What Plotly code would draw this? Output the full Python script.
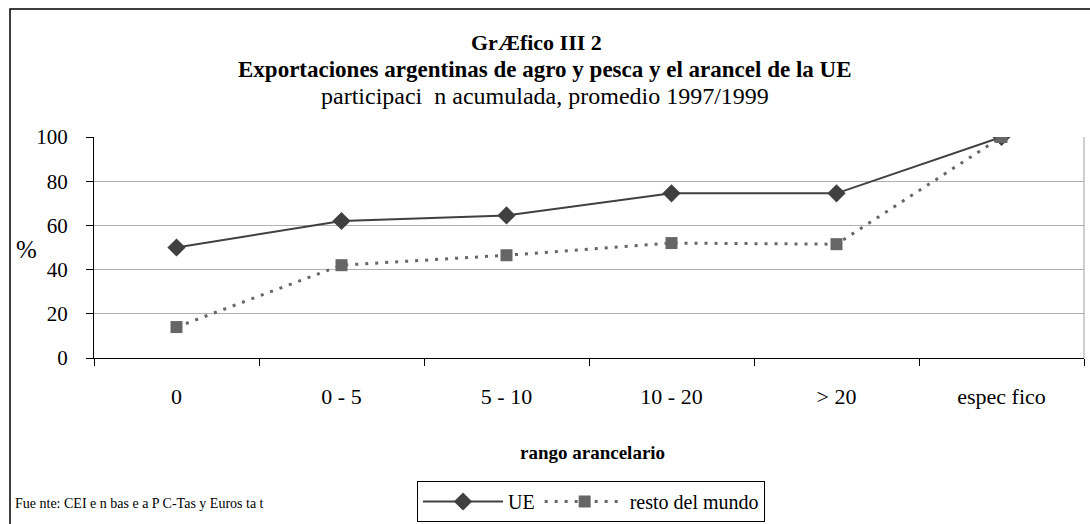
import plotly.graph_objects as go

categories = ["0", "0 - 5", "5 - 10", "10 - 20", "> 20", "espec\u00a0fico"]
ue = [50, 62, 64.5, 74.5, 74.5, 100]
resto = [14, 42, 46.5, 52, 51.5, 100]

W, H = 1090, 524
L, R, T, B = 94, 6, 137, 166
PW = W - L - R
PH = H - T - B

def px_x(x):
    return (x - L) / PW

def px_y(y):
    return (H - B - y) / PH

FONT = "Liberation Serif"

fig = go.Figure()
fig.add_trace(go.Scatter(
    x=categories, y=ue, name="UE", mode="lines+markers",
    line=dict(color="#404040", width=2),
    marker=dict(symbol="diamond", size=14, color="#404040"),
))
fig.add_trace(go.Scatter(
    x=categories, y=resto, name="resto del mundo", mode="lines+markers",
    line=dict(color="#666666", width=3, dash="3px,7px"),
    marker=dict(symbol="square", size=12, color="#666666"),
))

fig.update_layout(
    width=W, height=H,
    margin=dict(l=L, r=R, t=T, b=B, autoexpand=False),
    paper_bgcolor="white", plot_bgcolor="white",
    font=dict(family=FONT, color="black", size=20),
    showlegend=True,
    legend=dict(
        orientation="h", x=px_x(417), y=px_y(481), xanchor="left", yanchor="top",
        bordercolor="black", borderwidth=1, bgcolor="white",
        font=dict(family=FONT, size=20), itemwidth=80,
        tracegroupgap=0,
    ),
    xaxis=dict(
        type="category", tickson="boundaries", ticks="outside", ticklen=7,
        tickcolor="black", showline=True, linecolor="black", linewidth=1,
        showgrid=False, tickfont=dict(size=22), ticklabelstandoff=19,
        range=[-0.5, 5.5],
    ),
    yaxis=dict(
        range=[0, 100], dtick=20, ticks="outside", ticklen=7, tickcolor="black",
        showline=True, linecolor="black", linewidth=1,
        showgrid=True, gridcolor="#b0b0b0", gridwidth=1,
        tickfont=dict(size=21), zeroline=False, ticklabelstandoff=14,
    ),
)

# gray right border of plot area
fig.add_shape(type="line", xref="paper", yref="paper", x0=1, x1=1, y0=0, y1=1,
              line=dict(color="#a0a0a0", width=1))
# outer frame
fig.add_shape(type="rect", xref="paper", yref="paper",
              x0=px_x(10), x1=px_x(1095), y0=px_y(530), y1=px_y(9),
              line=dict(color="black", width=1.5), fillcolor="rgba(0,0,0,0)")

ann = [
    dict(text="<b>GrÆfico III 2</b>", x=px_x(536), y=px_y(42), size=22),
    dict(text="<b>Exportaciones argentinas de agro y pesca y el arancel de la UE</b>", x=px_x(545), y=px_y(69), size=23),
    dict(text="participaci\u00a0\u00a0n acumulada, promedio 1997/1999", x=px_x(545), y=px_y(96), size=24),
    dict(text="%", x=px_x(26), y=px_y(249), size=25),
    dict(text="<b>rango arancelario</b>", x=px_x(592), y=px_y(452), size=19),
]
for a in ann:
    fig.add_annotation(text=a["text"], x=a["x"], y=a["y"], xref="paper", yref="paper",
                       showarrow=False, xanchor="center", yanchor="middle",
                       font=dict(family=FONT, size=a["size"], color="black"))

fig.add_annotation(text="Fue nte: CEI e n bas e a P C-Tas y Euros ta t", x=px_x(13), y=px_y(503),
                   xref="paper", yref="paper", showarrow=False, xanchor="left", yanchor="middle",
                   font=dict(family=FONT, size=14, color="black"))

fig.write_html("out.html", config={"displayModeBar": False},
               post_script="document.body.style.margin='0px';")
